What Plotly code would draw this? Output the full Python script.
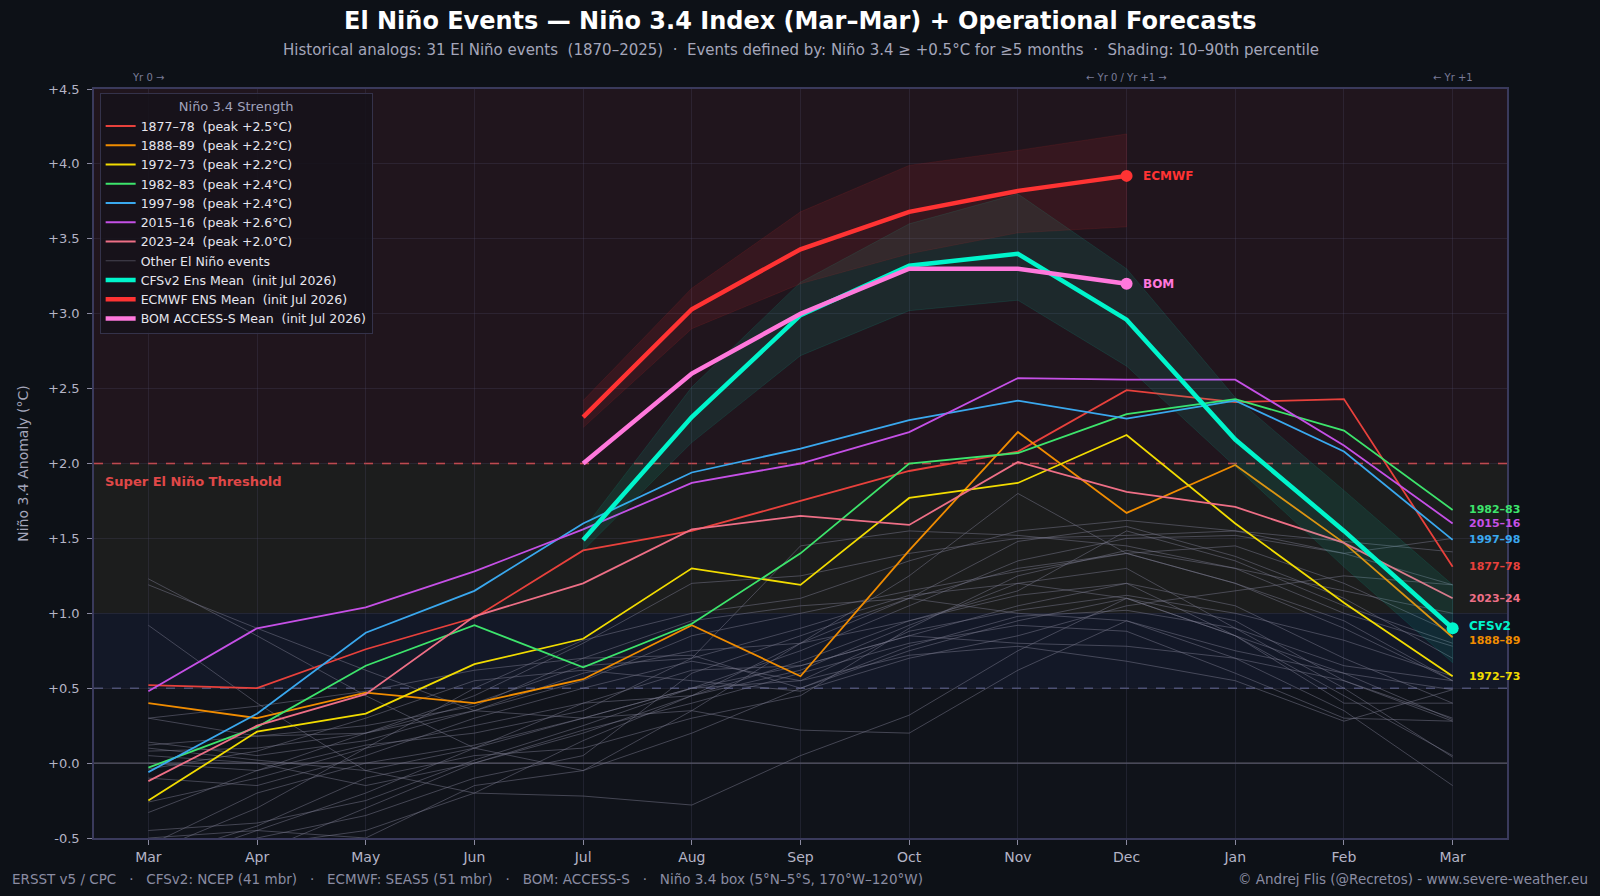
import plotly.graph_objects as go

months = ["Mar", "Apr", "May", "Jun", "Jul", "Aug", "Sep", "Oct", "Nov", "Dec", "Jan", "Feb", "Mar"]
x_idx = list(range(len(months)))

# Highlighted historical events (Mar Yr0 -> Mar Yr+1)
ev_names = ["1877–78", "1888–89", "1972–73", "1982–83", "1997–98", "2015–16", "2023–24"]
ev_peaks = ["+2.5", "+2.2", "+2.2", "+2.4", "+2.4", "+2.6", "+2.0"]
ev_colors = ["#e8413c", "#f08c00", "#f2dc00", "#3de46c", "#3aa8ee", "#c550e6", "#ee6f86"]
ev_1877 = [0.52, 0.50, 0.76, 0.97, 1.42, 1.55, 1.75, 1.95, 2.08, 2.49, 2.41, 2.43, 1.31]
ev_1888 = [0.40, 0.30, 0.47, 0.40, 0.56, 0.92, 0.58, 1.42, 2.21, 1.67, 1.99, 1.47, 0.84]
ev_1972 = [-0.25, 0.21, 0.33, 0.66, 0.83, 1.30, 1.19, 1.77, 1.87, 2.19, 1.60, 1.07, 0.58]
ev_1982 = [-0.03, 0.24, 0.65, 0.92, 0.64, 0.93, 1.40, 2.00, 2.07, 2.33, 2.43, 2.22, 1.69]
ev_1997 = [-0.06, 0.33, 0.87, 1.15, 1.60, 1.94, 2.10, 2.29, 2.42, 2.30, 2.42, 2.08, 1.49]
ev_2015 = [0.48, 0.90, 1.04, 1.28, 1.56, 1.87, 2.00, 2.21, 2.57, 2.56, 2.56, 2.12, 1.60]
ev_2023 = [-0.12, 0.25, 0.46, 0.98, 1.20, 1.56, 1.65, 1.59, 2.01, 1.81, 1.71, 1.47, 1.10]
ev_values = [ev_1877, ev_1888, ev_1972, ev_1982, ev_1997, ev_2015, ev_2023]

# Other El Niño events (grey spaghetti)
other_events = [
    [1.23, 0.85, 0.45, 0.10, -0.05, 0.20, 0.50, 0.75, 0.95, 1.10, 0.95, 0.55, 0.30],
    [1.19, 0.90, 0.62, 0.35, 0.30, 0.50, 0.65, 0.85, 1.05, 1.20, 1.05, 0.70, 0.40],
    [0.92, 0.40, -0.05, -0.20, 0.15, 0.45, 0.80, 1.10, 1.30, 1.40, 1.20, 0.90, 0.55],
    [0.30, 0.38, 0.48, 0.62, 0.70, 0.95, 1.05, 1.10, 1.00, 0.95, 0.75, 0.60, 0.49],
    [0.14, 0.05, 0.15, 0.35, 0.60, 0.75, 0.80, 0.95, 1.15, 1.55, 1.35, 1.05, 0.80],
    [0.10, 0.02, -0.05, 0.10, 0.40, 0.62, 0.65, 0.85, 0.80, 0.78, 0.70, 0.55, 0.28],
    [0.08, 0.10, 0.20, 0.45, 0.80, 1.20, 1.25, 1.40, 1.50, 1.52, 1.55, 1.48, 1.41],
    [-0.04, 0.08, 0.30, 0.55, 0.62, 0.55, 0.48, 0.70, 0.85, 1.05, 1.15, 1.25, 1.19],
    [-0.10, -0.15, 0.05, 0.30, 0.50, 0.68, 0.55, 0.88, 1.02, 1.12, 1.00, 0.82, 0.58],
    [-0.26, -0.10, 0.10, 0.25, 0.40, 0.45, 0.62, 0.92, 1.20, 1.30, 0.90, 0.50, 0.04],
    [-0.33, -0.05, 0.20, 0.35, 0.55, 0.85, 1.00, 1.15, 1.28, 1.40, 1.45, 1.20, 0.87],
    [-0.60, -0.30, 0.10, 0.50, 0.82, 1.00, 1.10, 1.35, 1.55, 1.62, 1.55, 1.40, 1.19],
    [-0.70, -0.45, -0.20, 0.10, 0.30, 0.35, 0.22, 0.20, 0.62, 0.95, 0.70, 0.35, -0.15],
    [-0.80, -0.55, -0.45, -0.20, -0.22, -0.28, 0.05, 0.32, 0.75, 1.10, 0.85, 0.60, 0.29],
    [-0.65, -0.42, -0.10, 0.05, 0.10, 0.30, 0.45, 0.90, 1.25, 1.42, 1.30, 1.00, 0.78],
    [-0.90, -0.60, -0.30, 0.00, 0.20, 0.45, 0.68, 0.95, 1.12, 1.20, 0.85, 0.45, 0.05],
    [-0.55, -0.20, 0.00, 0.12, 0.30, 0.50, 0.75, 1.05, 1.35, 1.50, 1.52, 1.40, 1.50],
    [0.00, -0.05, 0.12, 0.20, 0.35, 0.70, 0.90, 1.12, 1.20, 1.10, 0.85, 0.40, 0.40],
    [-0.75, -0.50, -0.35, -0.10, 0.05, 0.60, 0.85, 1.10, 1.48, 1.58, 1.38, 1.10, 0.70],
    [0.05, 0.00, -0.15, 0.00, 0.22, 0.40, 0.60, 0.80, 0.92, 0.88, 0.60, 0.30, 0.28],
    [-0.45, -0.40, -0.25, 0.02, 0.25, 0.50, 0.55, 0.72, 0.78, 0.68, 0.55, 0.28, 0.49],
    [0.30, 0.18, 0.20, 0.40, 0.65, 0.70, 1.45, 1.55, 1.52, 1.45, 1.30, 1.15, 1.00],
    [-0.50, -0.45, -0.50, -0.15, -0.05, 0.35, 0.80, 1.25, 1.80, 1.40, 1.20, 0.95, 0.55],
    [0.12, 0.18, 0.25, 0.38, 0.70, 0.72, 0.50, 0.78, 0.98, 1.02, 0.90, 0.65, 0.55],
]

# Operational forecasts (init Jul 2026)
cfs_months = ["Jul", "Aug", "Sep", "Oct", "Nov", "Dec", "Jan", "Feb", "Mar"]
cfs_mean = [1.49, 2.31, 2.99, 3.32, 3.40, 2.96, 2.16, 1.55, 0.90]
cfs_p10 = [1.42, 2.14, 2.72, 3.02, 3.09, 2.65, 1.98, 1.31, 0.67]
cfs_p90 = [1.56, 2.51, 3.21, 3.60, 3.80, 3.30, 2.44, 1.82, 1.19]
ecm_months = ["Jul", "Aug", "Sep", "Oct", "Nov", "Dec"]
ecm_mean = [2.31, 3.03, 3.43, 3.68, 3.82, 3.92]
ecm_p10 = [2.24, 2.90, 3.20, 3.40, 3.54, 3.58]
ecm_p90 = [2.42, 3.17, 3.68, 3.99, 4.09, 4.20]
bom_months = ["Jul", "Aug", "Sep", "Oct", "Nov", "Dec"]
bom_mean = [2.00, 2.60, 3.00, 3.30, 3.30, 3.20]

y_ticks = [-0.5, 0.0, 0.5, 1.0, 1.5, 2.0, 2.5, 3.0, 3.5, 4.0, 4.5]
y_ticktext = ["-0.5", "+0.0", "+0.5", "+1.0", "+1.5", "+2.0", "+2.5", "+3.0", "+3.5", "+4.0", "+4.5"]

FONT = "DejaVu Sans"
BG = "#0d1117"
PLOT_BG = "#10131a"
FG = "#b4b4c6"


def fx(mlist):
    # forecast months start at Jul (index 4) and continue to Mar (index 12)
    return [4 + i for i in range(len(mlist))]


fig = go.Figure()

# grey other events
for i, vals in enumerate(other_events):
    fig.add_trace(go.Scatter(
        x=x_idx, y=vals, mode="lines",
        line=dict(color="rgba(120,120,140,0.5)", width=1),
        name="Other El Niño events", legendgroup="other",
        showlegend=(i == 0), hoverinfo="skip", legendrank=2,
    ))

# highlighted events
for name, peak, col, vals in zip(ev_names, ev_peaks, ev_colors, ev_values):
    fig.add_trace(go.Scatter(
        x=x_idx, y=vals, mode="lines", line=dict(color=col, width=1.8),
        name=f"{name}\u00a0\u00a0(peak {peak}°C)",
        legendrank=1,
    ))

# shading bands
cx = fx(cfs_months)
ex = fx(ecm_months)
fig.add_trace(go.Scatter(
    x=cx + cx[::-1], y=cfs_p90 + cfs_p10[::-1], fill="toself", mode="lines",
    fillcolor="rgba(0,240,200,0.09)", line=dict(color="rgba(0,240,200,0.10)", width=1),
    showlegend=False, hoverinfo="skip"))
fig.add_trace(go.Scatter(
    x=ex + ex[::-1], y=ecm_p90 + ecm_p10[::-1], fill="toself", mode="lines",
    fillcolor="rgba(255,50,50,0.10)", line=dict(color="rgba(255,50,50,0.10)", width=1),
    showlegend=False, hoverinfo="skip"))

fc_specs = [
    ("CFSv2 Ens Mean\u00a0\u00a0(init Jul 2026)", "#00f5cc", cx, cfs_mean),
    ("ECMWF ENS Mean\u00a0\u00a0(init Jul 2026)", "#ff3333", ex, ecm_mean),
    ("BOM ACCESS-S Mean\u00a0\u00a0(init Jul 2026)", "#ff78dc", fx(bom_months), bom_mean),
]
for name, col, xs, ys in fc_specs:
    fig.add_trace(go.Scatter(x=xs, y=ys, mode="lines", line=dict(color=col, width=4.5),
                             name=name, legendrank=3))
    fig.add_trace(go.Scatter(x=[xs[-1]], y=[ys[-1]], mode="markers",
                             marker=dict(color=col, size=12), showlegend=False, hoverinfo="skip"))

# background bands
bands = [
    (2.0, 4.5, "rgba(255,60,70,0.07)"),
    (1.0, 2.0, "rgba(255,210,90,0.05)"),
    (0.5, 1.0, "rgba(70,120,255,0.06)"),
]
for y0, y1, c in bands:
    fig.add_shape(type="rect", xref="paper", yref="y", x0=0, x1=1, y0=y0, y1=y1,
                  fillcolor=c, line=dict(width=0), layer="below")

# reference lines
fig.add_shape(type="line", xref="paper", yref="y", x0=0, x1=1, y0=2.0, y1=2.0,
              line=dict(color="#e04848", width=1.5, dash="dash"), layer="below")
fig.add_shape(type="line", xref="paper", yref="y", x0=0, x1=1, y0=0.5, y1=0.5,
              line=dict(color="#6a70a0", width=1, dash="dash"), layer="below")
fig.add_shape(type="line", xref="paper", yref="y", x0=0, x1=1, y0=0.0, y1=0.0,
              line=dict(color="#5a5a66", width=1.3), layer="below")

W, H = 1600, 896
ML, MR, MT, MB = 94, 93, 89, 58
ph = H - MT - MB
pw = W - ML - MR


def py(pix_from_top):
    return (H - MB - pix_from_top) / ph


def pxp(pix_from_left):
    return (pix_from_left - ML) / pw


ann = []
ann.append(dict(text="<b>Super El Niño Threshold</b>", xref="paper", yref="y", x=pxp(103), y=1.88,
                xanchor="left", yanchor="middle", showarrow=False,
                font=dict(family=FONT, size=13, color="#e04848")))

# right-side event labels
for name, col, vals in zip(ev_names, ev_colors, ev_values):
    ann.append(dict(text=f"<b>{name}</b>", x=12, y=vals[-1], xref="x", yref="y",
                    xanchor="left", yanchor="middle", xshift=14, showarrow=False,
                    yshift=(-3 if name == "1888–89" else 0),
                    font=dict(family=FONT, size=11, color=col)))
ann.append(dict(text="<b>CFSv2</b>", x=cx[-1], y=cfs_mean[-1], xref="x", yref="y",
                xanchor="left", yanchor="middle", xshift=14, yshift=2, showarrow=False,
                font=dict(family=FONT, size=12, color="#00f5cc")))
ann.append(dict(text="<b>ECMWF</b>", x=ex[-1], y=ecm_mean[-1], xref="x", yref="y",
                xanchor="left", yanchor="middle", xshift=14, showarrow=False,
                font=dict(family=FONT, size=12, color="#ff3333")))
ann.append(dict(text="<b>BOM</b>", x=fx(bom_months)[-1], y=bom_mean[-1], xref="x", yref="y",
                xanchor="left", yanchor="middle", xshift=14, showarrow=False,
                font=dict(family=FONT, size=12, color="#ff78dc")))

# year markers above plot
for xv, txt in [(0, "Yr 0 →"), (9, "← Yr 0 / Yr +1 →"), (12, "← Yr +1")]:
    ann.append(dict(text=txt, x=xv, y=1.005, xref="x", yref="paper", xanchor="center",
                    yanchor="bottom", showarrow=False,
                    font=dict(family=FONT, size=10, color="#7a7c98")))

# title & subtitle
ann.append(dict(text="<b>El Niño Events — Niño 3.4 Index (Mar–Mar) + Operational Forecasts</b>",
                xref="paper", yref="paper", x=0.5, y=py(21), showarrow=False,
                xanchor="center", yanchor="middle",
                font=dict(family=FONT, size=24, color="#ffffff")))
sep = "\u00a0\u00a0·\u00a0\u00a0"
ann.append(dict(text="Historical analogs: 31 El Niño events\u00a0\u00a0(1870–2025)" + sep +
                "Events defined by: Niño 3.4 ≥ +0.5°C for ≥5 months" + sep +
                "Shading: 10–90th percentile",
                xref="paper", yref="paper", x=0.5, y=py(50), showarrow=False,
                xanchor="center", yanchor="middle",
                font=dict(family=FONT, size=15, color="#a4a6ba")))
sep2 = "\u00a0\u00a0\u00a0·\u00a0\u00a0\u00a0"
ann.append(dict(text="ERSST v5 / CPC" + sep2 + "CFSv2: NCEP (41 mbr)" + sep2 + "ECMWF: SEAS5 (51 mbr)" + sep2 +
                "BOM: ACCESS-S" + sep2 + "Niño 3.4 box (5°N–5°S, 170°W–120°W)",
                xref="paper", yref="paper", x=pxp(10), y=py(879), showarrow=False,
                xanchor="left", yanchor="middle",
                font=dict(family=FONT, size=13.5, color="#8a8ca2")))
ann.append(dict(text="© Andrej Flis (@Recretos) - www.severe-weather.eu",
                xref="paper", yref="paper", x=pxp(1590), y=py(879), showarrow=False,
                xanchor="right", yanchor="middle",
                font=dict(family=FONT, size=13.5, color="#8a8ca2")))

fig.update_layout(
    width=W, height=H,
    margin=dict(l=ML, r=MR, t=MT, b=MB),
    paper_bgcolor=BG, plot_bgcolor=PLOT_BG,
    font=dict(family=FONT, color=FG),
    annotations=ann,
    showlegend=True,
    legend=dict(
        x=0.004, y=0.994, xanchor="left", yanchor="top",
        bgcolor="rgba(22,18,26,0.88)", bordercolor="#34324a", borderwidth=1,
        font=dict(family=FONT, size=12.5, color="#e6e6ee"),
        title=dict(text="Niño 3.4 Strength", side="top center",
                   font=dict(family=FONT, size=13, color="#a0a2bc")),
        tracegroupgap=0, itemwidth=30,
    ),
    xaxis=dict(
        range=[-0.5, 12.5], tickmode="array", tickvals=x_idx, ticktext=months,
        showgrid=True, gridcolor="rgba(80,80,110,0.25)", gridwidth=1,
        zeroline=False, showline=True, linecolor="#3a3a5c", linewidth=1.5, mirror=True,
        ticks="outside", ticklen=5, tickcolor="#8a8aa0",
        tickfont=dict(family=FONT, size=14, color=FG),
    ),
    yaxis=dict(
        range=[-0.5, 4.5], tickmode="array", tickvals=y_ticks, ticktext=y_ticktext,
        showgrid=True, gridcolor="rgba(80,80,110,0.25)", gridwidth=1,
        zeroline=False, showline=True, linecolor="#3a3a5c", linewidth=1.5, mirror=True,
        ticks="outside", ticklen=5, tickcolor="#8a8aa0", ticklabelstandoff=5,
        tickfont=dict(family=FONT, size=13, color=FG),
        title=dict(text="Niño 3.4 Anomaly (°C)", font=dict(family=FONT, size=14, color="#a4a6ba"),
                   standoff=16),
    ),
)

fig.write_html("out.html")
